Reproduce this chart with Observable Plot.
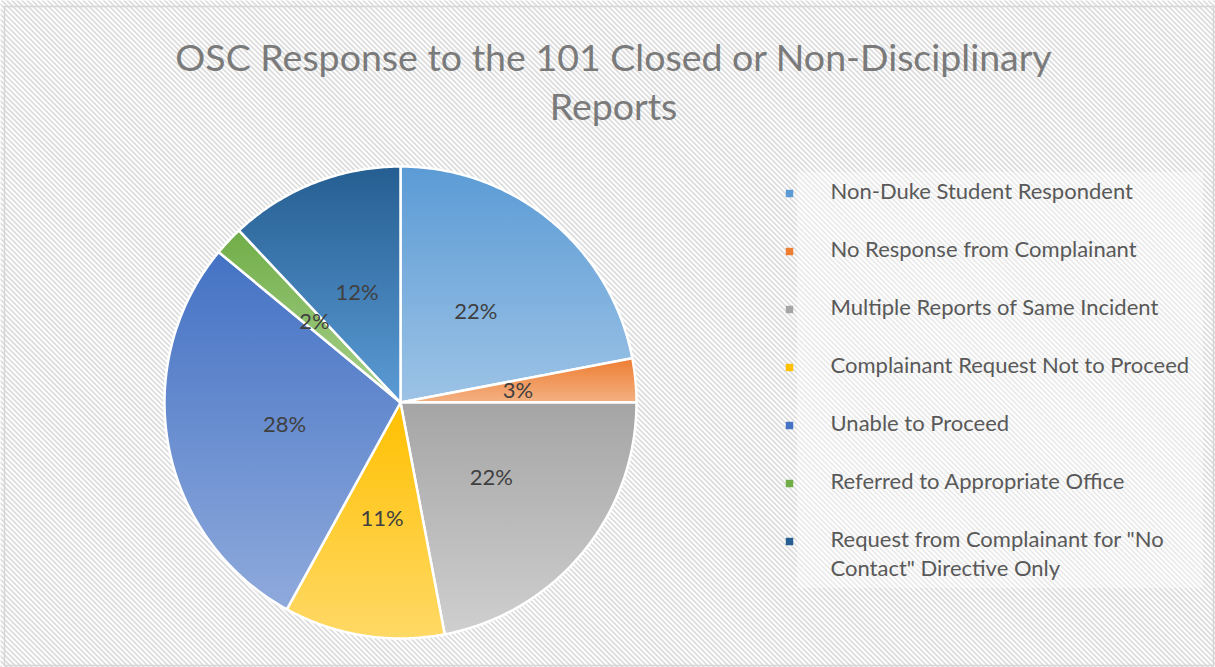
<!DOCTYPE html>
<html>
<head>
<meta charset="utf-8">
<script src="https://cdn.jsdelivr.net/npm/d3@7"></script>
<script src="https://cdn.jsdelivr.net/npm/@observablehq/plot@0.6"></script>
<style>
  body { margin: 0; background: #ffffff; }
  #chart svg { display: block; }
</style>
</head>
<body>
<div id="chart"></div>
<script>
// ---- Data ----
const titleLines = ["OSC Response to the 101 Closed or Non-Disciplinary", "Reports"];
const categories = [
  "Non-Duke Student Respondent",
  "No Response from Complainant",
  "Multiple Reports of Same Incident",
  "Complainant Request Not to Proceed",
  "Unable to Proceed",
  "Referred to Appropriate Office",
  "Request from Complainant for \"No Contact\" Directive Only"
];
const legendLabels = [
  "Non-Duke Student Respondent",
  "No Response from Complainant",
  "Multiple Reports of Same Incident",
  "Complainant Request Not to Proceed",
  "Unable to Proceed",
  "Referred to Appropriate Office",
  "Request from Complainant for \"No\nContact\" Directive Only"
];
const percents = [22, 3, 22, 11, 28, 2, 12];

// ---- Styles ----
const topColors    = ["#5B9BD5", "#ED7D31", "#A5A5A5", "#FFC000", "#4472C4", "#70AD47", "#255E91"];
const bottomColors = ["#9DC3E6", "#F4B183", "#CFCFCF", "#FFD966", "#8FAADC", "#A9D18E", "#5B9BD5"];
const legendColors = ["#5B9BD5", "#ED7D31", "#A5A5A5", "#FFC000", "#4472C4", "#70AD47", "#255E91"];

const W = 1215, H = 667;
const cx = 400, cy = 402, R = 236;
const FONT = "Lato, 'Open Sans', sans-serif";

// ---- Pie geometry from data (d3.pie, clockwise from 12 o'clock) ----
const arcs = d3.pie().sort(null).value(d => d)(percents);
function pt(a, r) { return {x: cx + r * Math.sin(a), y: cy - r * Math.cos(a)}; }
const slices = arcs.map((a, i) => {
  const pts = [pt(0, 0)];
  const n = Math.max(4, Math.ceil((a.endAngle - a.startAngle) / 0.01));
  for (let k = 0; k <= n; k++) {
    pts.push(pt(a.startAngle + (a.endAngle - a.startAngle) * k / n, R));
  }
  pts.push(pt(0, 0));
  return pts;
});
const labels = arcs.map((a, i) => {
  const p = pt((a.startAngle + a.endAngle) / 2, R * 0.5);
  return {x: p.x, y: p.y, text: percents[i] + "%"};
});

// legend rows
const legendRows = legendLabels.map((t, i) => ({x: 789, tx: 830, y: 193 + i * 58, text: t, color: legendColors[i]}));

// ---- defs (hatch pattern + gradients) ----
const defsMark = () => {
  const ns = "http://www.w3.org/2000/svg";
  const g = document.createElementNS(ns, "g");
  const defs = document.createElementNS(ns, "defs");
  const pat = document.createElementNS(ns, "pattern");
  pat.setAttribute("id", "hatch");
  pat.setAttribute("patternUnits", "userSpaceOnUse");
  pat.setAttribute("width", "3.6");
  pat.setAttribute("height", "3.6");
  pat.setAttribute("patternTransform", "rotate(-45)");
  const bg = document.createElementNS(ns, "rect");
  bg.setAttribute("width", "3.6"); bg.setAttribute("height", "3.6"); bg.setAttribute("fill", "#ffffff");
  pat.appendChild(bg);
  const ln = document.createElementNS(ns, "line");
  ln.setAttribute("x1", "0.9"); ln.setAttribute("y1", "0"); ln.setAttribute("x2", "0.9"); ln.setAttribute("y2", "3.6");
  ln.setAttribute("stroke", "#d4d4d4"); ln.setAttribute("stroke-width", "1.4");
  pat.appendChild(ln);
  defs.appendChild(pat);
  topColors.forEach((c, i) => {
    const lg = document.createElementNS(ns, "linearGradient");
    lg.setAttribute("id", "grad" + i);
    lg.setAttribute("x1", "0"); lg.setAttribute("y1", "0"); lg.setAttribute("x2", "0"); lg.setAttribute("y2", "1");
    const s1 = document.createElementNS(ns, "stop");
    s1.setAttribute("offset", "0"); s1.setAttribute("stop-color", c);
    const s2 = document.createElementNS(ns, "stop");
    s2.setAttribute("offset", "1"); s2.setAttribute("stop-color", bottomColors[i]);
    lg.appendChild(s1); lg.appendChild(s2);
    defs.appendChild(lg);
  });
  g.appendChild(defs);
  return g;
};

const chart = Plot.plot({
  width: W,
  height: H,
  margin: 0,
  x: {domain: [0, W], range: [0, W], axis: null},
  y: {domain: [0, H], range: [0, H], axis: null},
  style: {fontFamily: FONT, background: "#ffffff"},
  marks: [
    defsMark,
    Plot.frame({fill: "url(#hatch)", stroke: "none"}),
    Plot.rect([{x1: 797, x2: 1203, y1: 172, y2: 588}], {x1: "x1", x2: "x2", y1: "y1", y2: "y2", fill: "#ffffff", fillOpacity: 0.4}),
    Plot.frame({stroke: "#d6d6d6", strokeWidth: 1.5, insetLeft: 4, insetTop: 6, insetRight: 2, insetBottom: 2}),
    ...slices.map((pts, i) => Plot.line(pts, {
      x: "x", y: "y", fill: `url(#grad${i})`, stroke: "#ffffff", strokeWidth: 2.5, strokeLinejoin: "round", curve: "linear"
    })),
    Plot.text(labels, {x: "x", y: "y", text: "text", fontSize: 22, fill: "#404040", fontFamily: FONT}),
    Plot.dot(legendRows, {x: "x", y: "y", symbol: "square", r: 4.2, fill: "color", stroke: "none"}),
    Plot.text(legendRows, {x: "tx", y: "y", text: "text", textAnchor: "start", lineAnchor: "top", dy: -15.5,
      fontSize: 22, lineHeight: 1.32, fill: "#595959", fontFamily: FONT}),
    Plot.text(titleLines.map((t, i) => ({t, x: 613, y: 58 + i * 49})), {
      x: "x", y: "y", text: "t", fontSize: 37.5, fill: "#7a7a7a", fontWeight: 400, fontFamily: FONT
    })
  ]
});
document.getElementById("chart").appendChild(chart);
</script>
</body>
</html>
